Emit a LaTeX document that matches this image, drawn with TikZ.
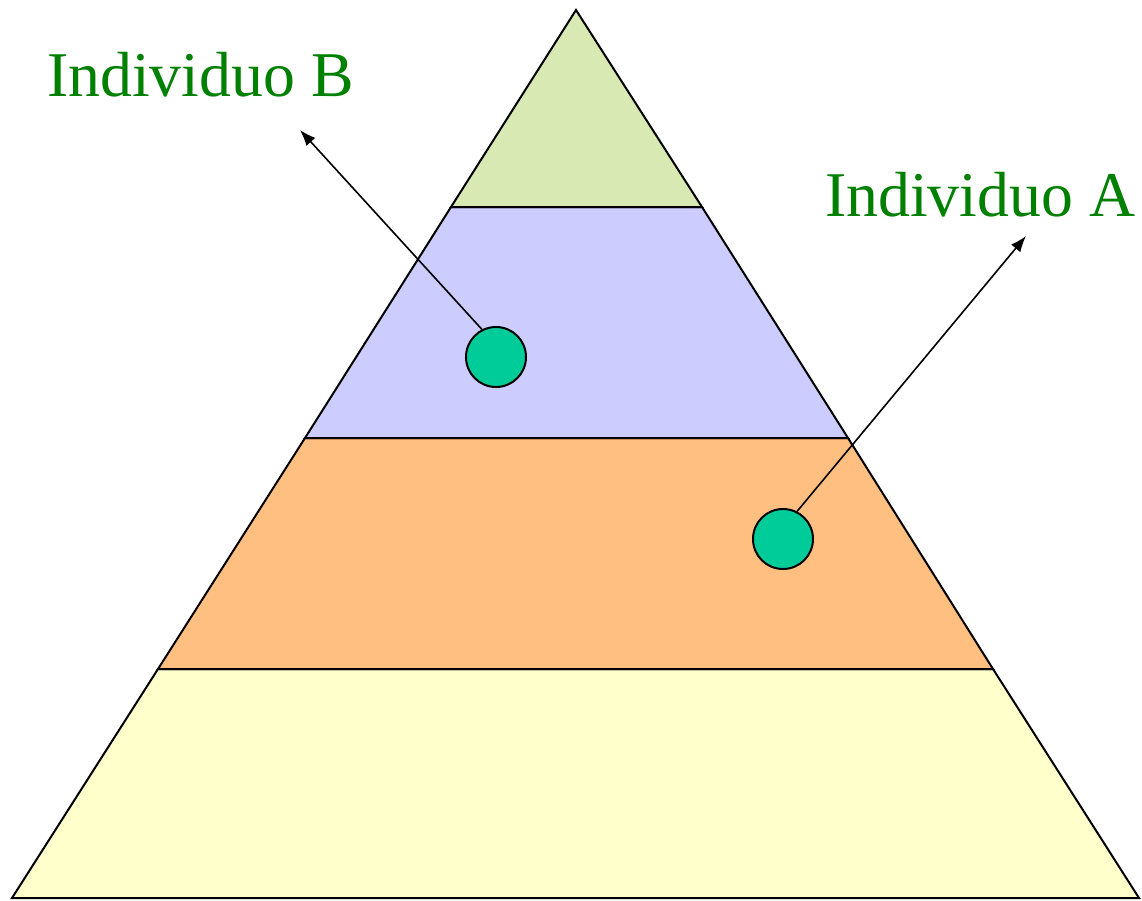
\documentclass[tikz,border=0pt]{standalone}
\usepackage{fontspec}
\setmainfont{Liberation Serif}
\usetikzlibrary{arrows.meta}
\definecolor{bandG}{HTML}{D9E9B4}
\definecolor{bandB}{HTML}{CCCCFF}
\definecolor{bandO}{HTML}{FFBF80}
\definecolor{bandY}{HTML}{FFFFCC}
\definecolor{dotC}{HTML}{00CC99}
\definecolor{labelC}{HTML}{008000}
\tikzset{
  band/.style={draw=black, line width=2bp, line join=miter},
  dotnode/.style={circle, draw=black, line width=2bp, fill=dotC, minimum size=60bp, inner sep=0pt},
  pointer/.style={draw=black, line width=1.6bp, -{Latex[length=16bp,width=12bp]}},
  lab/.style={text=labelC, font=\fontsize{64}{76}\selectfont, inner sep=0pt, anchor=base west}
}
\begin{document}
\begin{tikzpicture}[x=1bp, y=-1bp]
\useasboundingbox (0,0) rectangle (1142,901);
% bands
\path[band, fill=bandY] (158,669) -- (993,669) -- (1139,898) -- (12,898) -- cycle;
\path[band, fill=bandO] (305,438) -- (848,438) -- (993,669) -- (158,669) -- cycle;
\path[band, fill=bandB] (451,207) -- (702,207) -- (848,438) -- (305,438) -- cycle;
\path[band, fill=bandG] (576,10) -- (702,207) -- (451,207) -- cycle;
% individuals
\node[dotnode] (b) at (496,357) {};
\node[dotnode] (a) at (783,539) {};
\coordinate (tipB) at (300,130);
\coordinate (tipA) at (1026,236);
\draw[pointer] (b.117) -- (tipB);
\draw[pointer] (a.63) -- (tipA);
% labels
\node[lab] (labB) at (47,96) {Individuo B};
\node[lab] (labA) at (825,216) {Individuo A};
\end{tikzpicture}
\end{document}
